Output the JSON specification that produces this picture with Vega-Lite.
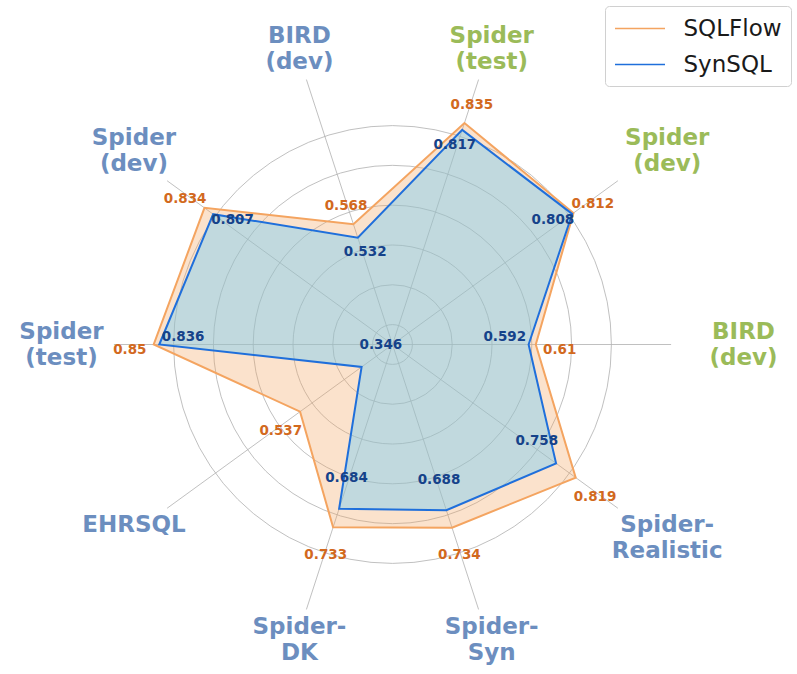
{
  "$schema": "https://vega.github.io/schema/vega-lite/v6.json",
  "width": 797,
  "height": 674,
  "padding": 0,
  "autosize": {"type": "none"},
  "background": "white",
  "config": {"view": {"stroke": null}, "font": "DejaVu Sans"},
  "datasets": {
    "scores": [
      {"i": 0, "category": "BIRD\n(dev)", "group": "green", "model": "SQLFlow", "value": 0.61},
      {"i": 1, "category": "Spider\n(dev)", "group": "green", "model": "SQLFlow", "value": 0.812},
      {"i": 2, "category": "Spider\n(test)", "group": "green", "model": "SQLFlow", "value": 0.835},
      {"i": 3, "category": "BIRD\n(dev)", "group": "blue", "model": "SQLFlow", "value": 0.568},
      {"i": 4, "category": "Spider\n(dev)", "group": "blue", "model": "SQLFlow", "value": 0.834},
      {"i": 5, "category": "Spider\n(test)", "group": "blue", "model": "SQLFlow", "value": 0.85},
      {"i": 6, "category": "EHRSQL", "group": "blue", "model": "SQLFlow", "value": 0.537},
      {"i": 7, "category": "Spider-\nDK", "group": "blue", "model": "SQLFlow", "value": 0.733},
      {"i": 8, "category": "Spider-\nSyn", "group": "blue", "model": "SQLFlow", "value": 0.734},
      {"i": 9, "category": "Spider-\nRealistic", "group": "blue", "model": "SQLFlow", "value": 0.819},
      {"i": 0, "category": "BIRD\n(dev)", "group": "green", "model": "SynSQL", "value": 0.592},
      {"i": 1, "category": "Spider\n(dev)", "group": "green", "model": "SynSQL", "value": 0.808},
      {"i": 2, "category": "Spider\n(test)", "group": "green", "model": "SynSQL", "value": 0.817},
      {"i": 3, "category": "BIRD\n(dev)", "group": "blue", "model": "SynSQL", "value": 0.532},
      {"i": 4, "category": "Spider\n(dev)", "group": "blue", "model": "SynSQL", "value": 0.807},
      {"i": 5, "category": "Spider\n(test)", "group": "blue", "model": "SynSQL", "value": 0.836},
      {"i": 6, "category": "EHRSQL", "group": "blue", "model": "SynSQL", "value": 0.346},
      {"i": 7, "category": "Spider-\nDK", "group": "blue", "model": "SynSQL", "value": 0.684},
      {"i": 8, "category": "Spider-\nSyn", "group": "blue", "model": "SynSQL", "value": 0.688},
      {"i": 9, "category": "Spider-\nRealistic", "group": "blue", "model": "SynSQL", "value": 0.758}
    ],
    "grid": [{"v": 0.3}, {"v": 0.4}, {"v": 0.5}, {"v": 0.6}, {"v": 0.7}, {"v": 0.8}]
  },
  "layer": [
    {
      "data": {"name": "grid"},
      "transform": [
        {"calculate": "datum.v - 0.25", "as": "r"},
        {"calculate": "0", "as": "cx"},
        {"calculate": "0", "as": "cy"}
      ],
      "mark": {"type": "point", "shape": "circle", "filled": false, "stroke": "#b0b0b0", "strokeWidth": 0.8, "opacity": 1},
      "encoding": {
        "x": {"field": "cx", "type": "quantitative", "axis": null, "scale": {"domain": [-0.98618, 1.01633], "nice": false, "zero": false}},
        "y": {"field": "cy", "type": "quantitative", "axis": null, "scale": {"domain": [-0.82789, 0.86558], "nice": false, "zero": false}},
        "size": {"field": "r", "type": "quantitative", "legend": null, "scale": {"type": "pow", "exponent": 2, "domain": [0, 0.7], "range": [0, 310472]}}
      }
    },
    {
      "data": {"name": "scores"},
      "transform": [
        {"filter": "datum.model == 'SQLFlow'"},
        {"calculate": "datum.i * PI / 5", "as": "a"},
        {"calculate": "0", "as": "cx"},
        {"calculate": "0", "as": "cy"},
        {"calculate": "0.7 * cos(datum.a)", "as": "ex"},
        {"calculate": "0.7 * sin(datum.a)", "as": "ey"}
      ],
      "mark": {"type": "rule", "stroke": "#b0b0b0", "strokeWidth": 0.8},
      "encoding": {
        "x": {"field": "cx", "type": "quantitative", "axis": null, "scale": {"domain": [-0.98618, 1.01633], "nice": false, "zero": false}},
        "y": {"field": "cy", "type": "quantitative", "axis": null, "scale": {"domain": [-0.82789, 0.86558], "nice": false, "zero": false}},
        "x2": {"field": "ex"},
        "y2": {"field": "ey"}
      }
    },
    {
      "data": {"name": "scores"},
      "transform": [
        {"filter": "datum.model == 'SQLFlow'"},
        {"calculate": "datum.i * PI / 5", "as": "a"},
        {"calculate": "(datum.value - 0.25) * cos(datum.a)", "as": "px"},
        {"calculate": "(datum.value - 0.25) * sin(datum.a)", "as": "py"}
      ],
      "mark": {"type": "line", "interpolate": "linear-closed", "fill": "#f4a460", "fillOpacity": 0.32, "strokeOpacity": 0},
      "encoding": {
        "x": {"field": "px", "type": "quantitative", "axis": null, "scale": {"domain": [-0.98618, 1.01633], "nice": false, "zero": false}},
        "y": {"field": "py", "type": "quantitative", "axis": null, "scale": {"domain": [-0.82789, 0.86558], "nice": false, "zero": false}},
        "order": {"field": "i", "type": "quantitative"}
      }
    },
    {
      "data": {"name": "scores"},
      "transform": [
        {"filter": "datum.model == 'SynSQL'"},
        {"calculate": "datum.i * PI / 5", "as": "a"},
        {"calculate": "(datum.value - 0.25) * cos(datum.a)", "as": "px"},
        {"calculate": "(datum.value - 0.25) * sin(datum.a)", "as": "py"}
      ],
      "mark": {"type": "line", "interpolate": "linear-closed", "fill": "#6ccefb", "fillOpacity": 0.4, "strokeOpacity": 0},
      "encoding": {
        "x": {"field": "px", "type": "quantitative", "axis": null, "scale": {"domain": [-0.98618, 1.01633], "nice": false, "zero": false}},
        "y": {"field": "py", "type": "quantitative", "axis": null, "scale": {"domain": [-0.82789, 0.86558], "nice": false, "zero": false}},
        "order": {"field": "i", "type": "quantitative"}
      }
    },
    {
      "data": {"name": "scores"},
      "transform": [
        {"calculate": "datum.i * PI / 5", "as": "a"},
        {"calculate": "(datum.value - 0.25) * cos(datum.a)", "as": "px"},
        {"calculate": "(datum.value - 0.25) * sin(datum.a)", "as": "py"}
      ],
      "mark": {"type": "line", "interpolate": "linear-closed", "strokeWidth": 2},
      "encoding": {
        "x": {"field": "px", "type": "quantitative", "axis": null, "scale": {"domain": [-0.98618, 1.01633], "nice": false, "zero": false}},
        "y": {"field": "py", "type": "quantitative", "axis": null, "scale": {"domain": [-0.82789, 0.86558], "nice": false, "zero": false}},
        "order": {"field": "i", "type": "quantitative"},
        "color": {
          "field": "model", "type": "nominal",
          "scale": {"domain": ["SQLFlow", "SynSQL"], "range": ["#f4a460", "#1f6fdb"]},
          "legend": {
            "title": null, "orient": "top-right", "offset": 6,
            "symbolType": "M-2,0H2", "symbolSize": 625, "symbolStrokeWidth": 1.5, "symbolOffset": 12.5,
            "labelFontSize": 23, "labelFont": "DejaVu Sans", "labelColor": "#1a1a1a",
            "labelOffset": 30, "labelLimit": 300,
            "strokeColor": "#d0d0d0", "fillColor": "white", "cornerRadius": 4,
            "padding": 9, "rowPadding": 10
          }
        }
      }
    },
    {
      "data": {"name": "scores"},
      "transform": [
        {"filter": "datum.model == 'SQLFlow'"},
        {"calculate": "datum.i * PI / 5", "as": "a"},
        {"calculate": "(datum.value - 0.25 + 0.06) * cos(datum.a)", "as": "lx"},
        {"calculate": "(datum.value - 0.25 + 0.06) * sin(datum.a)", "as": "ly"}
      ],
      "mark": {"type": "text", "font": "DejaVu Sans", "fontWeight": "bold", "fontSize": 13.5, "color": "#d2691e", "align": "center", "baseline": "middle", "dy": 5},
      "encoding": {
        "x": {"field": "lx", "type": "quantitative", "axis": null, "scale": {"domain": [-0.98618, 1.01633], "nice": false, "zero": false}},
        "y": {"field": "ly", "type": "quantitative", "axis": null, "scale": {"domain": [-0.82789, 0.86558], "nice": false, "zero": false}},
        "text": {"field": "value", "type": "nominal"}
      }
    },
    {
      "data": {"name": "scores"},
      "transform": [
        {"filter": "datum.model == 'SynSQL'"},
        {"calculate": "datum.i * PI / 5", "as": "a"},
        {"calculate": "(datum.value - 0.25 - 0.06) * cos(datum.a)", "as": "lx"},
        {"calculate": "(datum.value - 0.25 - 0.06) * sin(datum.a)", "as": "ly"}
      ],
      "mark": {"type": "text", "font": "DejaVu Sans", "fontWeight": "bold", "fontSize": 13.5, "color": "#15428a", "align": "center", "baseline": "middle", "dy": -8},
      "encoding": {
        "x": {"field": "lx", "type": "quantitative", "axis": null, "scale": {"domain": [-0.98618, 1.01633], "nice": false, "zero": false}},
        "y": {"field": "ly", "type": "quantitative", "axis": null, "scale": {"domain": [-0.82789, 0.86558], "nice": false, "zero": false}},
        "text": {"field": "value", "type": "nominal"}
      }
    },
    {
      "data": {"name": "scores"},
      "transform": [
        {"filter": "datum.model == 'SQLFlow'"},
        {"calculate": "datum.i * PI / 5", "as": "a"},
        {"calculate": "(308 + 33 * cos(datum.a) * cos(datum.a)) / 398", "as": "lr"},
        {"calculate": "datum.lr * cos(datum.a) + 10 * abs(cos(datum.a)) / 398", "as": "lx"},
        {"calculate": "datum.lr * sin(datum.a)", "as": "ly"}
      ],
      "mark": {"type": "text", "font": "DejaVu Sans", "fontWeight": "bold", "fontSize": 23, "align": "center", "baseline": "middle", "lineBreak": "\n", "lineHeight": 26, "dy": -13},
      "encoding": {
        "x": {"field": "lx", "type": "quantitative", "axis": null, "scale": {"domain": [-0.98618, 1.01633], "nice": false, "zero": false}},
        "y": {"field": "ly", "type": "quantitative", "axis": null, "scale": {"domain": [-0.82789, 0.86558], "nice": false, "zero": false}},
        "text": {"field": "category", "type": "nominal"},
        "color": {"condition": {"test": "datum.group == 'green'", "value": "#9bbb59"}, "value": "#6c8ebf"}
      }
    }
  ]
}
